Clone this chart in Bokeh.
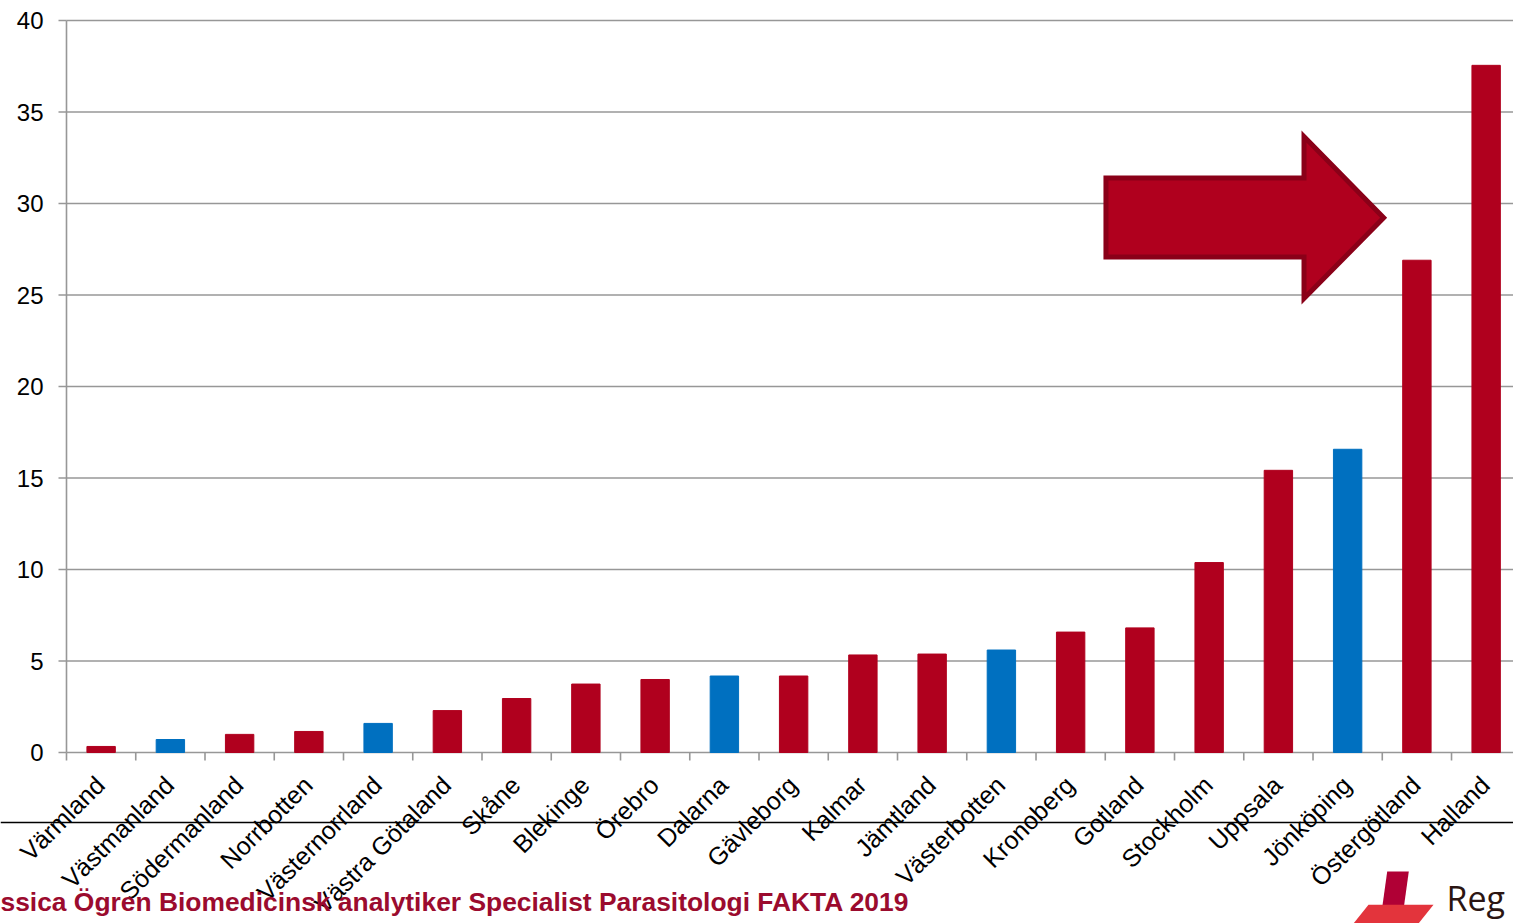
import math
from bokeh.plotting import figure
from bokeh.models import (Range1d, Label, Span, PolyAnnotation, ColumnDataSource)
from bokeh.core.properties import value
from bokeh.embed import file_html
from bokeh.resources import INLINE

# ---------------- data ----------------
regions = ["Värmland", "Västmanland", "Södermanland", "Norrbotten", "Västernorrland",
           "Västra Götaland", "Skåne", "Blekinge", "Örebro", "Dalarna", "Gävleborg",
           "Kalmar", "Jämtland", "Västerbotten", "Kronoberg", "Gotland", "Stockholm",
           "Uppsala", "Jönköping", "Östergötland", "Halland"]
values = [0.33, 0.71, 0.99, 1.15, 1.59, 2.29, 2.95, 3.74, 3.99, 4.18, 4.18,
          5.33, 5.38, 5.60, 6.58, 6.81, 10.38, 15.42, 16.57, 26.9, 37.55]
blue_regions = ["Västmanland", "Västernorrland", "Dalarna", "Västerbotten", "Jönköping"]
y_ticks = [0, 5, 10, 15, 20, 25, 30, 35, 40]
y_tick_labels = ["0", "5", "10", "15", "20", "25", "30", "35", "40"]
footer_text = "ssica Ögren Biomedicinsk analytiker Specialist Parasitologi FAKTA 2019"
logo_text = "Reg"

# arrow outline (category units along x, value units along y)
arrow_x = [15.01, 17.87, 17.87, 19.02, 17.87, 17.87, 15.01]
arrow_y = [31.40, 31.40, 33.66, 29.22, 24.81, 27.07, 27.07]

RED = "#B0001E"
BLUE = "#0070C0"
GRID = "#979797"
FONT = "Liberation Sans"

n = len(regions)
centers = [i + 0.5 for i in range(n)]
bounds = list(range(n + 1))
colors = [BLUE if r in blue_regions else RED for r in regions]
bars = ColumnDataSource(dict(x=centers, region=regions, value=values, color=colors))

W, H = 1513, 923
# frame covers the whole canvas; ranges chosen so that the value axis runs
# from 0 (px 752) to 40 (px 20) and category 0 starts at px 66
p = figure(width=W, height=H,
           x_range=Range1d(-0.953, 20.895), y_range=Range1d(-9.344, 41.093),
           output_backend="svg", toolbar_location=None,
           x_axis_location=None, y_axis_location=None,
           min_border=0)
p.outline_line_color = None
p.background_fill_color = "white"
p.border_fill_color = "white"
p.xgrid.visible = False
p.ygrid.visible = False

# horizontal grid lines (the 0 line doubles as category axis line)
p.ray(x=[0] * len(y_ticks), y=y_ticks, length=0, angle=0,
      line_color=GRID, line_width=1.6)
# value axis line and ticks
p.segment(x0=[0], y0=[y_ticks[0]], x1=[0], y1=[y_ticks[-1]], line_color=GRID, line_width=1.6)
p.ray(x=[0] * len(y_ticks), y=y_ticks, length=8, length_units="screen", angle=math.pi,
      line_color=GRID, line_width=1.6)
p.text(x=[0] * len(y_ticks), y=y_ticks, text=y_tick_labels, x_offset=-23,
       text_align="right", text_baseline="middle", text_font=value(FONT),
       text_font_size=value("24px"), text_color="black")
# category ticks between bars
p.ray(x=bounds, y=[0] * len(bounds), length=8, length_units="screen", angle=-math.pi / 2,
      line_color=GRID, line_width=1.6)
# category labels
p.text(x="x", y=0, text="region", source=bars, angle=math.pi / 4,
       x_offset=-1, y_offset=28, text_align="right", text_baseline="middle",
       text_font=value(FONT), text_font_size=value("25px"), text_color="black")

p.vbar(x="x", top="value", width=0.41, color="color", source=bars)

p.patch(arrow_x, arrow_y, fill_color=RED, line_color="#8A0018", line_width=5,
        line_join="miter")

# footer rule
p.add_layout(Span(location=101, location_units="screen", dimension="width",
                  line_color="black", line_width=1.5))

p.add_layout(Label(x=0, y=22, x_units="screen", y_units="screen",
                   text=footer_text, text_font=FONT,
                   text_font_style="bold", text_font_size="26.4px",
                   text_color="#9B0B2E", text_baseline="alphabetic"))

# logo
p.add_layout(PolyAnnotation(xs=[1386.7, 1408.3, 1403.3, 1381.7], ys=[52, 52, 16, 16],
                            xs_units="screen", ys_units="screen",
                            fill_color="#B00035", fill_alpha=1, line_color=None))
p.add_layout(PolyAnnotation(xs=[1368, 1433, 1418, 1353], ys=[18.7, 18.7, 0, 0],
                            xs_units="screen", ys_units="screen",
                            fill_color="#E3343C", fill_alpha=1, line_color=None))
p.add_layout(Label(x=1446, y=26, x_units="screen", y_units="screen",
                   text=logo_text, text_font="Open Sans", text_font_size="34px",
                   text_color="#2B1512", text_baseline="alphabetic"))

open("out.html", "w").write(file_html(p, INLINE))
